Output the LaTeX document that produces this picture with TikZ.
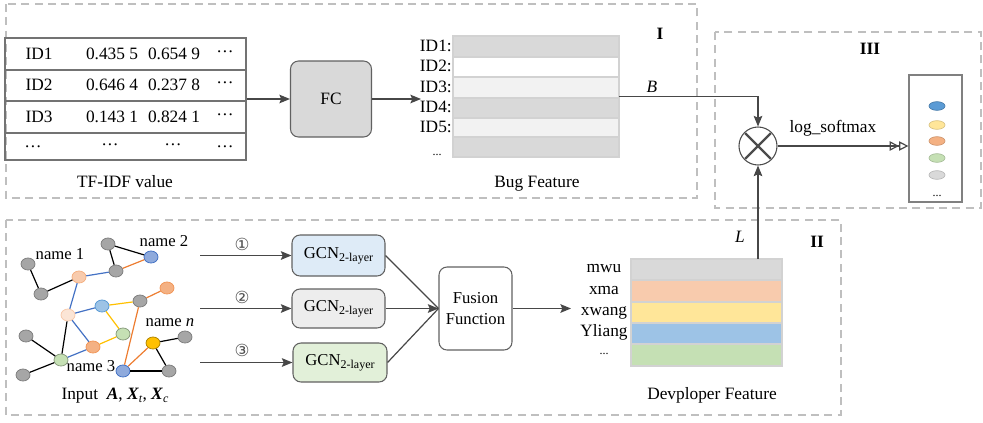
\documentclass[tikz,border=0pt]{standalone}
\usepackage{fontspec}
\setmainfont{Liberation Serif}
\newfontfamily\circfont{DejaVu Sans}
\usetikzlibrary{arrows.meta,shapes.geometric}

\definecolor{eblue}{HTML}{4472C4}
\definecolor{eorange}{HTML}{ED7D31}
\definecolor{eyellow}{HTML}{FFC000}
\definecolor{cgray}{HTML}{D9D9D9}
\definecolor{corange}{HTML}{F8CBAD}
\definecolor{cyellow}{HTML}{FFE699}
\definecolor{cblue}{HTML}{9DC3E6}
\definecolor{cgreen}{HTML}{C5E0B4}
\definecolor{dblue}{HTML}{5B9BD5}
\definecolor{dorange}{HTML}{F4B183}
\definecolor{nblue}{HTML}{8FAADC}
\definecolor{npeach}{HTML}{FBE5D6}
\definecolor{gblue}{HTML}{DEEBF7}
\definecolor{ggray}{HTML}{EDEDED}
\definecolor{ggreen}{HTML}{E2F0D9}

\newcommand\gcntext{GCN\raisebox{-0.45ex}{\fontsize{9}{10}\selectfont 2-layer}}
\newcommand\circnum[1]{{\circfont\fontsize{12.5}{14}\selectfont #1}}
\newcommand\mdots{\textperiodcentered\textperiodcentered\textperiodcentered}

\begin{document}
\begin{tikzpicture}[x=0.75pt,y=-0.75pt,
  txt/.style={inner sep=0pt, text height=0.66em, text depth=0pt, font=\fontsize{13}{15}\selectfont},
  frame/.style={draw=gray!50, line width=1pt, dash pattern=on 6pt off 4pt},
  conn/.style={draw=black!72, line width=0.9pt},
  arr/.style={conn, -{Stealth[length=8pt,width=6.5pt,inset=1.5pt]}},
  wh/.style 2 args={minimum width=#1*0.75pt, minimum height=#2*0.75pt},
  rbox/.style={draw=black!62, line width=0.8pt, rounded corners=6pt, inner sep=0pt},
  gv/.style 2 args={ellipse, inner sep=0pt, minimum width=10.5pt, minimum height=9pt, fill=#1, draw=#2, line width=0.6pt},
  gn/.style={gv={gray!70}{gray}},
  ge/.style={line width=0.9pt, draw=#1},
  dot/.style 2 args={ellipse, inner sep=0pt, minimum width=12pt, minimum height=6.5pt, fill=#1, draw=#2, line width=0.5pt}
]
\useasboundingbox (0,0) rectangle (983,422);

% ---------- dashed module frames ----------
\draw[frame] (6,4) rectangle (697,198);
\draw[frame] (715,32) rectangle (981,208);
\draw[frame] (6,220) rectangle (841,415);
\node[txt, font=\fontsize{13}{15}\selectfont\bfseries] (m1) at (660,35) {I};
\node[txt, font=\fontsize{13}{15}\selectfont\bfseries] (m3) at (870,50) {III};
\node[txt, font=\fontsize{13}{15}\selectfont\bfseries] (m2) at (817,243) {II};

% ---------- TF-IDF table ----------
\node[draw=black!55, line width=0.9pt, inner sep=0pt, wh={241}{122}] (tab) at (125.5,99) {};
\foreach \yy in {70,101,133}
  \draw[draw=black!55, line width=0.9pt] (tab.west |- 0,\yy) -- (tab.east |- 0,\yy);
\node[txt] (r1id) at (39,55) {ID1};
\node[txt] (r1a) at (112,55) {0.435 5};
\node[txt] (r1b) at (174,55) {0.654 9};
\node[txt] (r1c) at (225,53) {\mdots};
\node[txt] (r2id) at (39,86) {ID2};
\node[txt] (r2a) at (112,86) {0.646 4};
\node[txt] (r2b) at (174,86) {0.237 8};
\node[txt] (r2c) at (225,84) {\mdots};
\node[txt] (r3id) at (39,118) {ID3};
\node[txt] (r3a) at (112,118) {0.143 1};
\node[txt] (r3b) at (174,118) {0.824 1};
\node[txt] (r3c) at (225,116) {\mdots};
\node[txt] (r4id) at (33,148) {\mdots};
\node[txt] (r4a) at (110,146) {\mdots};
\node[txt] (r4b) at (173,146) {\mdots};
\node[txt] (r4c) at (225,148) {\mdots};
\node[txt] (tfidf) at (125,183) {TF-IDF value};

% ---------- FC ----------
\node[rbox, fill=cgray, wh={81}{76}, font=\fontsize{13}{15}\selectfont] (fc) at (331,99) {FC};
\draw[arr] (tab.east) -- (fc.west);

% ---------- Bug feature ----------
\foreach \t/\b/\c in {36/57/cgray, 57/77/white, 77/98/gray!10, 98/118/cgray, 118/137/gray!10, 137/157/cgray}
  \draw[fill=\c, draw=gray!35, line width=0.8pt] (453,\t) rectangle (619,\b);
\node[inner sep=0pt, wh={166}{121}] (bf) at (536,96.5) {};
\node[txt, anchor=east] (b1) at (452,47) {ID1:};
\node[txt, anchor=east] (b2) at (452,67) {ID2:};
\node[txt, anchor=east] (b3) at (452,88) {ID3:};
\node[txt, anchor=east] (b4) at (452,108) {ID4:};
\node[txt, anchor=east] (b5) at (452,128) {ID5:};
\node[inner sep=0pt, font=\fontsize{9}{10}\selectfont] (b6) at (437,155) {...};
\node[txt] (bugf) at (537,183) {Bug Feature};
\coordinate (bfin) at (421,99);
\draw[arr] (fc.east) -- (bfin);

% ---------- product node ----------
\node[circle, draw=black!70, line width=0.8pt, minimum size=28.5pt, inner sep=0pt] (mul) at (758,146) {};
\draw[black!70, line width=1.7pt, shorten <=1pt, shorten >=1pt] (mul.north west) -- (mul.south east);
\draw[black!70, line width=1.7pt, shorten <=1pt, shorten >=1pt] (mul.north east) -- (mul.south west);
\draw[arr] (bf.east) -| (mul.north);
\node[txt, font=\fontsize{13}{15}\selectfont\itshape] (blab) at (652,88) {B};

% ---------- output ----------
\node[draw=gray, line width=0.9pt, inner sep=0pt, wh={53}{127}] (outbox) at (935.5,138.5) {};
\node[dot={dblue}{dblue!80!black}] (o1) at (937,106) {};
\node[dot={cyellow}{cyellow!85!black}] (o2) at (937,125) {};
\node[dot={dorange}{dorange!85!black}] (o3) at (937,141) {};
\node[dot={cgreen}{cgreen!85!black}] (o4) at (937,158) {};
\node[dot={cgray}{cgray!85!black}] (o5) at (937,175) {};
\node[inner sep=0pt, font=\fontsize{9}{10}\selectfont] (o6) at (937,196) {...};
\draw[conn, -{Triangle[open,length=7pt,width=7pt]Triangle[open,length=7pt,width=7pt]}] (mul.east) -- (mul.east -| outbox.west);
\node[txt] (lsm) at (833,128) {log\_softmax};

% ---------- developer feature ----------
\foreach \t/\b/\c in {259/280/cgray, 280/302/corange, 302/323/cyellow, 323/344/cblue, 344/366/cgreen}
  \draw[fill=\c, draw=gray!35, line width=0.8pt] (631,\t) rectangle (782,\b);
\node[inner sep=0pt, wh={151}{107}] (dev) at (706.5,312.5) {};
\node[txt] (d1) at (604,268) {mwu};
\node[txt] (d2) at (604,290) {xma};
\node[txt] (d3) at (604,311) {xwang};
\node[txt] (d4) at (604,332) {Yliang};
\node[inner sep=0pt, font=\fontsize{9}{10}\selectfont] (d5) at (604,354) {...};
\node[txt] (devf) at (712,395) {Devploper Feature};
\draw[arr] (dev.north -| mul.south) -- (mul.south);
\node[txt, font=\fontsize{13}{15}\selectfont\itshape] (llab) at (740,238) {L};

% ---------- GCN branches ----------
\node[rbox, fill=gblue, wh={93}{41}, font=\fontsize{12.5}{15}\selectfont] (g1) at (338.5,255.5) {\gcntext};
\node[rbox, fill=ggray, wh={93}{39}, font=\fontsize{12.5}{15}\selectfont] (g2) at (338.5,308.5) {\gcntext};
\node[rbox, fill=ggreen, wh={94}{39}, font=\fontsize{12.5}{15}\selectfont] (g3) at (340,362.5) {\gcntext};
\node[rbox, fill=white, wh={73}{83}, align=center, font=\fontsize{12.5}{16}\selectfont] (fus) at (475.5,308.5) {Fusion\\Function};

\coordinate (s1) at (200,255.5);
\coordinate (s2) at (200,308.5);
\coordinate (s3) at (200,362.5);
\draw[arr] (s1) -- (g1.west);
\draw[arr] (s2) -- (g2.west);
\draw[arr] (s3) -- (g3.west);
\node[inner sep=0pt, text=black!70] (c1) at (242,244) {\circnum{①}};
\node[inner sep=0pt, text=black!70] (c2) at (242,297) {\circnum{②}};
\node[inner sep=0pt, text=black!70] (c3) at (242,350) {\circnum{③}};
\draw[conn] (g1.east) -- (fus.west);
\draw[conn] (g3.east) -- (fus.west);
\draw[arr] (g2.east) -- (fus.west);
\coordinate (devin) at (571,0);
\draw[arr] (fus.east) -- (fus.east -| devin);

% ---------- input graph ----------
\node[gn] (a) at (28,264) {};
\node[gn] (b) at (41,294) {};
\node[gv={corange}{dorange}] (c) at (79,277) {};
\node[gn] (d) at (108,244) {};
\node[gn] (e) at (116,271) {};
\node[gv={nblue}{eblue}] (f) at (151,257) {};
\node[gv={npeach}{corange}] (g) at (68,315) {};
\node[gv={cblue}{dblue}] (h) at (102,306) {};
\node[gn] (i) at (140,301) {};
\node[gv={dorange}{eorange!80}] (j) at (167,288) {};
\node[gv={cgreen}{cgreen!70!black}] (k) at (123,334) {};
\node[gv={dorange}{eorange!80}] (l) at (93,347) {};
\node[gv={cgreen}{cgreen!70!black}] (m) at (61,360) {};
\node[gn] (n) at (26,336) {};
\node[gn] (o) at (23,375) {};
\node[gv={eyellow}{eyellow!70!black}] (p) at (153,343) {};
\node[gn] (q) at (185,337) {};
\node[gv={nblue}{eblue}] (r) at (123,371) {};
\node[gn] (s) at (169,371) {};

\draw[ge=black] (a) -- (b);
\draw[ge=black] (b) -- (c);
\draw[ge=black] (d) -- (e);
\draw[ge=black] (d) -- (f);
\draw[ge=black] (g) -- (m);
\draw[ge=black] (m) -- (n);
\draw[ge=black] (m) -- (o);
\draw[ge=black] (p) -- (q);
\draw[ge=black] (p) -- (s);
\draw[ge=black] (r) -- (s);
\draw[ge=eblue] (c) -- (e);
\draw[ge=eblue] (c) -- (g);
\draw[ge=eblue] (g) -- (h);
\draw[ge=eblue] (g) -- (l);
\draw[ge=eblue] (l) -- (m);
\draw[ge=eorange] (e) -- (f);
\draw[ge=eorange] (i) -- (j);
\draw[ge=eorange] (i) -- (r);
\draw[ge=eorange] (r) -- (p);
\draw[ge=eyellow] (h) -- (i);
\draw[ge=eyellow] (h) -- (k);
\draw[ge=eyellow] (k) -- (l);

\node[txt, font=\fontsize{12.5}{15}\selectfont] (n1) at (60,255) {name 1};
\node[txt, font=\fontsize{12.5}{15}\selectfont] (n2) at (164,242) {name 2};
\node[txt, font=\fontsize{12.5}{15}\selectfont] (nn) at (170,322) {name \textit{n}};
\node[txt, font=\fontsize{12.5}{15}\selectfont] (n3) at (91,367) {name 3};
\node[txt] (inp) at (115,395) {Input\ \ \textbf{\textit{A}}, \textbf{\textit{X}}\raisebox{-0.4ex}{\fontsize{9}{10}\selectfont\textit{t}}, \textbf{\textit{X}}\raisebox{-0.4ex}{\fontsize{9}{10}\selectfont\textit{c}}};
\end{tikzpicture}
\end{document}
